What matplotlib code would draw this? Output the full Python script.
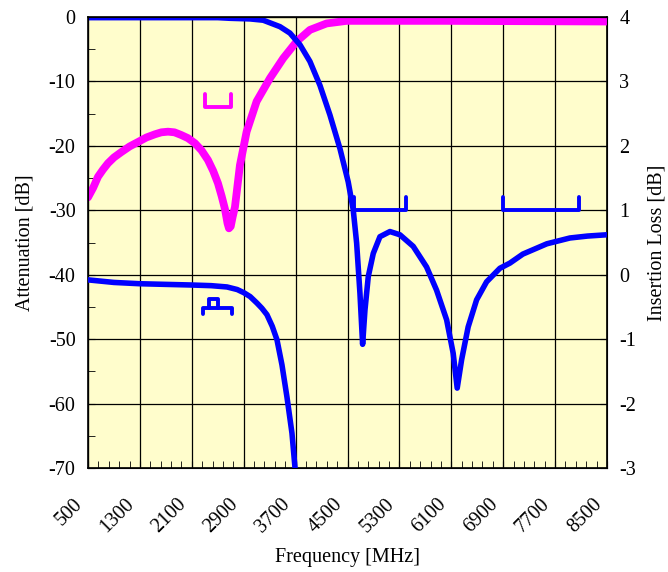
import numpy as np
import matplotlib
matplotlib.use("Agg")
import matplotlib.pyplot as plt
import matplotlib.transforms as mtransforms
from matplotlib.ticker import MultipleLocator, AutoMinorLocator

plt.rcParams['font.family'] = ['Liberation Serif', 'DejaVu Serif']
plt.rcParams['axes.unicode_minus'] = False

# return loss (left axis, dB)
rl_f = [500, 580, 654, 730, 808, 900, 1009, 1140, 1271, 1400, 1533, 1630, 1733, 1833,
        1933, 2040, 2149, 2250, 2349, 2430, 2503, 2560, 2611, 2650, 2673, 2700, 2730,
        2765, 2842, 2945, 3099, 3305, 3510, 3716, 3921, 4178, 4486, 4845, 6000, 8500]
rl_db = [-28, -26.5, -24.8, -23.7, -22.7, -21.8, -21, -20.1, -19.4, -18.7, -18.2, -17.9,
         -17.8, -17.9, -18.3, -18.8, -19.6, -20.7, -22.2, -23.9, -25.8, -27.8, -29.8, -32,
         -32.8, -32.5, -31, -29.5, -23, -17.8, -13.1, -9.5, -6.4, -3.8, -2.0, -1.0, -0.6,
         -0.6, -0.6, -0.7]

# attenuation (left axis, dB)
att_f = [500, 1500, 2500, 2688, 3000, 3201, 3459, 3613, 3767, 3921, 4075, 4229, 4383,
         4511, 4588, 4641, 4692, 4733, 4769, 4820, 4897, 5000, 5154, 5308, 5513, 5719,
         5873, 6028, 6129, 6191, 6259, 6360, 6490, 6644, 6849, 7003, 7203, 7573, 7928,
         8200, 8500]
att_db = [-0.1, -0.1, -0.1, -0.2, -0.3, -0.5, -1.5, -2.5, -4.3, -6.9, -10.6, -15.2, -20.4,
          -25.6, -29.9, -35.1, -42.9, -50.8, -45.5, -40.3, -36.7, -34.1, -33.3, -33.8, -35.6,
          -38.8, -42.4, -47, -52.2, -57.6, -53.2, -48.1, -43.9, -41.1, -39, -38.2, -36.8,
          -35.2, -34.3, -34, -33.8]

# insertion loss (right axis, dB)
il_f = [500, 900, 1301, 1700, 2103, 2400, 2642, 2800, 2904, 3000, 3104, 3180, 3258,
        3340, 3413, 3490, 3567, 3644, 3700]
il_db = [-0.08, -0.12, -0.14, -0.15, -0.16, -0.17, -0.19, -0.23, -0.28, -0.34, -0.44,
         -0.52, -0.62, -0.8, -1.01, -1.4, -1.9, -2.46, -3.1]

# spec markers
rl_spec_f = [2300, 2300, 2700, 2700]
rl_spec_db = [-12, -14, -14, -12]
att_spec1_f = [4600, 4600, 5400, 5400]
att_spec2_f = [6900, 6900, 8070, 8070]
att_spec_db = [-28, -30, -30, -28]
il_spec_f = [2280, 2280, 2720, 2720]
il_spec_db = [-0.61, -0.52, -0.52, -0.61]
il_typ_f = [2370, 2370, 2500, 2500]
il_typ_db = [-0.52, -0.38, -0.38, -0.52]

xticks = np.arange(500, 8501, 800)

fig = plt.figure(figsize=(6.68, 5.72), dpi=100)
ax = fig.add_axes([88/668, 1-468/572, (607-88)/668, (468-17)/572])
ax.set_facecolor('#FFFDCC')

ax.plot(rl_f, rl_db, color='#FF00FF', lw=5.6, solid_joinstyle='round', solid_capstyle='round', zorder=3)
ax.plot(att_f, att_db, color='#0000FF', lw=4, solid_joinstyle='round', solid_capstyle='round', zorder=4)
ax.plot(rl_spec_f, rl_spec_db, color='#FF00FF', lw=2.8, solid_capstyle='round', zorder=4)
ax.plot(att_spec1_f, att_spec_db, color='#0000FF', lw=2.8, solid_capstyle='round', zorder=4)
ax.plot(att_spec2_f, att_spec_db, color='#0000FF', lw=2.8, solid_capstyle='round', zorder=4)

ax.set_xlim(500, 8500)
ax.set_ylim(-70, 0)
ax.set_xticks(xticks)
ax.set_xticklabels([str(v) for v in xticks], rotation=45, ha='right', va='center',
                   rotation_mode='anchor')
ax.yaxis.set_major_locator(MultipleLocator(10))
ax.yaxis.set_minor_locator(MultipleLocator(5))
ax.xaxis.set_minor_locator(AutoMinorLocator(5))
ax.grid(True, which='major', color='black', lw=0.9)
ax.tick_params(axis='both', which='both', direction='in', labelsize=14.5)
ax.tick_params(axis='y', which='major', length=5, pad=9)
ax.tick_params(axis='y', which='minor', length=5)
ax.tick_params(axis='x', which='major', length=5, pad=22)
ax.tick_params(axis='x', which='minor', length=5)
ax.set_xlabel('Frequency [MHz]', fontsize=14.5, labelpad=8)
ax.set_ylabel('Attenuation [dB]', fontsize=14.5, labelpad=10)
for s in ax.spines.values():
    s.set_linewidth(1.2)

ax2 = ax.twinx()
ax2.plot(il_f, il_db, color='#0000FF', lw=4, solid_joinstyle='round', zorder=4)
ax2.plot(il_spec_f, il_spec_db, color='#0000FF', lw=2.8, solid_capstyle='round')
ax2.plot(il_typ_f, il_typ_db, color='#0000FF', lw=2.8, solid_capstyle='round')
ax2.set_ylim(-3, 4)
ax2.yaxis.set_major_locator(MultipleLocator(1))
ax2.tick_params(axis='y', direction='in', length=5, pad=9, labelsize=14.5)
ax2.set_ylabel('Insertion Loss [dB]', fontsize=14.5, labelpad=8)

# nudge the rotated frequency labels left/down like the original
shift = mtransforms.ScaledTranslation(-8/100, -3/100, fig.dpi_scale_trans)
for tick in ax.xaxis.get_major_ticks():
    tick.label1.set_transform(tick.label1.get_transform() + shift)

fig.savefig('out.png', dpi=100)
